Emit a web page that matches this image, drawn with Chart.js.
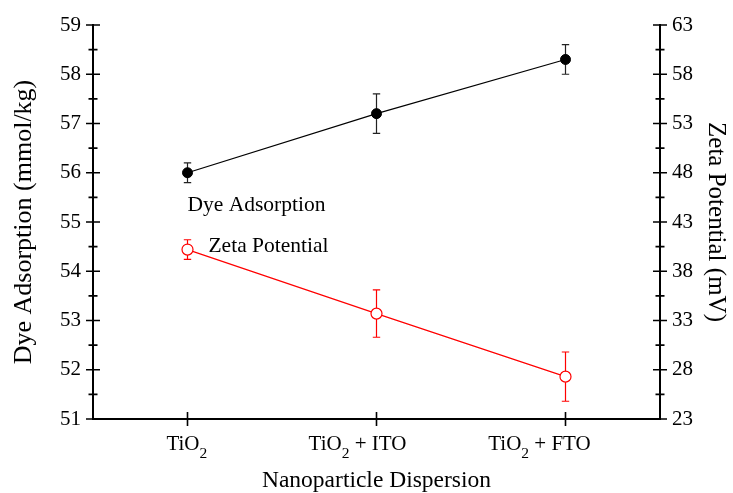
<!DOCTYPE html>
<html>
<head>
<meta charset="utf-8">
<script src="https://cdn.jsdelivr.net/npm/chart.js@4"></script>
<style>
html,body{margin:0;padding:0;background:#fff;}
#wrap{width:733px;height:493px;position:relative;}
</style>
</head>
<body>
<div id="wrap"><canvas id="c" width="733" height="493"></canvas></div>
<script>
// ---- data ----
const categories = ['TiO\u2082', 'TiO\u2082 + ITO', 'TiO\u2082 + FTO'];
const dyeAdsorption = [56.0, 57.2, 58.3];
const dyeError = [0.2, 0.4, 0.3];
const zetaPotential = [40.2, 33.7, 27.3];
const zetaError = [1.0, 2.4, 2.5];
const leftTicks = [51, 52, 53, 54, 55, 56, 57, 58, 59];
const rightTicks = [23, 28, 33, 38, 43, 48, 53, 58, 63];
const seriesNames = ['Dye Adsorption', 'Zeta Potential'];
// annotation anchors: [category position, left-axis value]
const labelAnchors = [[0, 55.22], [0.111, 54.39]];

const SERIF = "'Liberation Serif', 'Times New Roman', Times, serif";
Chart.defaults.font.family = SERIF;
Chart.defaults.color = '#000';

// horizontal shift of each category label's centre relative to its tick (layout only)
const labelShift = [-0.7, -19, -26];

const errorBars = {
  id: 'errorBars',
  beforeDatasetsDraw(chart) {
    const ctx = chart.ctx;
    const x = chart.scales.x;
    const sets = [
      {vals: dyeAdsorption, err: dyeError, scale: chart.scales.y, color: '#222'},
      {vals: zetaPotential, err: zetaError, scale: chart.scales.y2, color: '#ff0000'}
    ];
    ctx.save();
    sets.forEach(s => {
      ctx.strokeStyle = s.color;
      ctx.lineWidth = 1.2;
      s.vals.forEach((v, i) => {
        const px = x.getPixelForValue(i);
        const yt = s.scale.getPixelForValue(v + s.err[i]);
        const yb = s.scale.getPixelForValue(v - s.err[i]);
        ctx.beginPath();
        ctx.moveTo(px, yt); ctx.lineTo(px, yb);
        ctx.moveTo(px - 3.7, yt); ctx.lineTo(px + 3.7, yt);
        ctx.moveTo(px - 3.7, yb); ctx.lineTo(px + 3.7, yb);
        ctx.stroke();
      });
    });
    ctx.restore();
  }
};

const tickMarks = {
  id: 'tickMarks',
  afterDraw(chart) {
    const ctx = chart.ctx;
    const {y, y2, x} = chart.scales;
    const ca = chart.chartArea;
    ctx.save();
    ctx.strokeStyle = '#000';
    ctx.lineWidth = 1.6;
    ctx.beginPath();
    for (let i = 0; i < leftTicks.length; i++) {
      const py = y.getPixelForValue(leftTicks[i]);
      ctx.moveTo(ca.left - 7, py); ctx.lineTo(ca.left + 7, py);
      if (i < leftTicks.length - 1) {
        const pm = y.getPixelForValue((leftTicks[i] + leftTicks[i + 1]) / 2);
        ctx.moveTo(ca.left - 4.5, pm); ctx.lineTo(ca.left + 4.5, pm);
      }
    }
    for (let i = 0; i < rightTicks.length; i++) {
      const py = y2.getPixelForValue(rightTicks[i]);
      ctx.moveTo(ca.right - 7, py); ctx.lineTo(ca.right + 7, py);
      if (i < rightTicks.length - 1) {
        const pm = y2.getPixelForValue((rightTicks[i] + rightTicks[i + 1]) / 2);
        ctx.moveTo(ca.right - 4.5, pm); ctx.lineTo(ca.right + 4.5, pm);
      }
    }
    categories.forEach((c, i) => {
      const px = x.getPixelForValue(i);
      ctx.moveTo(px, ca.bottom - 7); ctx.lineTo(px, ca.bottom + 7);
    });
    ctx.stroke();

    // category labels with true subscripts
    ctx.fillStyle = '#000';
    ctx.textBaseline = 'alphabetic';
    ctx.textAlign = 'left';
    const mainFont = '21px ' + SERIF, subFont = '15.5px ' + SERIF;
    const baseY = ca.bottom + 31;
    categories.forEach((lab, i) => {
      const parts = lab.split('\u2082');
      ctx.font = mainFont;
      const w0 = ctx.measureText(parts[0]).width;
      const w2 = parts.length > 1 ? ctx.measureText(parts[1]).width : 0;
      ctx.font = subFont;
      const ws = parts.length > 1 ? ctx.measureText('2').width : 0;
      const total = w0 + ws + w2;
      let px = x.getPixelForValue(i) + labelShift[i] - total / 2;
      ctx.font = mainFont;
      ctx.fillText(parts[0], px, baseY);
      px += w0;
      if (parts.length > 1) {
        ctx.font = subFont;
        ctx.fillText('2', px, baseY + 8);
        px += ws;
        ctx.font = mainFont;
        ctx.fillText(parts[1], px, baseY);
      }
    });
    ctx.restore();
  }
};

const annotations = {
  id: 'annotations',
  afterDraw(chart) {
    const ctx = chart.ctx;
    const {x, y} = chart.scales;
    ctx.save();
    ctx.fillStyle = '#000';
    ctx.font = '21.5px ' + SERIF;
    ctx.textAlign = 'left';
    ctx.textBaseline = 'alphabetic';
    seriesNames.forEach((t, i) => {
      const a = labelAnchors[i];
      const px = x.getPixelForValue(0) + (x.getPixelForValue(1) - x.getPixelForValue(0)) * a[0];
      ctx.fillText(t, px, y.getPixelForValue(a[1]));
    });
    ctx.restore();
  }
};

new Chart(document.getElementById('c'), {
  type: 'line',
  data: {
    labels: categories,
    datasets: [
      {
        label: seriesNames[0],
        data: dyeAdsorption,
        yAxisID: 'y',
        borderColor: '#000',
        borderWidth: 1.2,
        backgroundColor: '#000',
        pointBackgroundColor: '#000',
        pointBorderColor: '#000',
        pointRadius: 5,
        pointBorderWidth: 1,
        tension: 0
      },
      {
        label: seriesNames[1],
        data: zetaPotential,
        yAxisID: 'y2',
        borderColor: '#ff0000',
        borderWidth: 1.2,
        backgroundColor: '#fff',
        pointBackgroundColor: '#fff',
        pointBorderColor: '#ff0000',
        pointRadius: 5.5,
        pointBorderWidth: 1.2,
        tension: 0
      }
    ]
  },
  options: {
    responsive: false,
    animation: false,
    layout: {padding: {top: 25, left: 0, right: 0, bottom: 0}},
    plugins: {legend: {display: false}, tooltip: {enabled: false}},
    scales: {
      x: {
        type: 'category',
        offset: true,
        grid: {display: false, drawTicks: false},
        border: {display: true, color: '#000', width: 2},
        ticks: {display: false},
        title: {display: true, text: 'Nanoparticle Dispersion', font: {size: 23.5, lineHeight: 1}, padding: {top: 0, bottom: 0}},
        afterFit(s) { s.height = 74; }
      },
      y: {
        position: 'left',
        min: 51, max: 59,
        grid: {display: false, drawTicks: false},
        border: {display: true, color: '#000', width: 2},
        ticks: {stepSize: 1, font: {size: 21}, padding: 12},
        title: {display: true, text: 'Dye Adsorption (mmol/kg)', font: {size: 26}, padding: {top: 9, bottom: 0}},
        afterFit(s) { s.width = 93; }
      },
      y2: {
        position: 'right',
        min: 23, max: 63,
        grid: {display: false, drawTicks: false},
        border: {display: true, color: '#000', width: 2},
        ticks: {stepSize: 5, font: {size: 21}, padding: 12},
        title: {display: true, text: 'Zeta Potential (mV)', font: {size: 25}, padding: {top: 2, bottom: 0}},
        afterFit(s) { s.width = 73; }
      }
    }
  },
  plugins: [errorBars, tickMarks, annotations]
});
</script>
</body>
</html>
